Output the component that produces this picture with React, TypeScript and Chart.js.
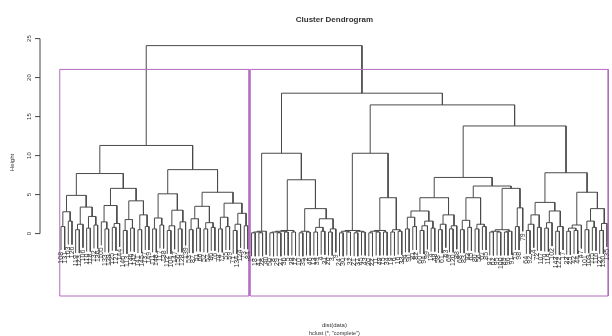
import React, { useEffect, useRef } from "react";
import { Chart, registerables } from "chart.js";

Chart.register(...registerables);

// Sub-trees in compact "(left,right)height" notation; leaves are row labels.
const a1a = "((108,131)0.9,(103,126)1.6)2.8";
const a1b = "(((119,123)0.5,106)1.2,((110,118)0.7,(132,136)1.1)2.2)3.4";
const a2a = "((105,(133,129)0.6)1.5,((125,121)0.8,144)1.3)3.6";
const a2b = "(((140,113)0.4,(146,142)0.7)1.8,((141,145)0.5,(137,149)0.9)2.4)4.2";
const b1a = "((111,148)0.6,(117,138)1.1)2.0";
const b1b = "(((112,104)0.4,147)1.0,((150,128)0.6,139)1.5)3.0";
const b2a = "(((53,87)0.5,(51,66)0.7)1.9,((52,57)0.6,(86,76)0.8)1.4)3.5";
const b2b = "(((78,77)0.6,(55,59)0.9)2.1,(((71,134)0.4,124)1.2,(73,84)1.0)2.6)3.9";
const r1a = "(((1,18)0.1,(41,28)0.1)0.2,40)0.3";
const r1b = "((((50,8)0.1,(29,27)0.1)0.2,(36,5)0.2)0.3,(38,12)0.2)0.4";
const r1c = "((10,35)0.1,(2,46)0.2)0.3";
const r1d = "(((13,39)0.2,(4,31)0.3)0.8,((26,3)0.2,9)0.6)1.9";
const r2a = "(((24,30)0.1,(7,32)0.2)0.3,((21,37)0.1,(45,43)0.2)0.3)0.4";
const r2b = "(((20,22)0.1,(11,49)0.2)0.3,(15,34)0.2)0.4";
const r2c = "((19,6)0.2,(16,33)0.3)0.5";
const pl = "(((54,90)0.6,(81,82)0.9)2.1,(((60,94)0.4,99)1.0,(14,48)0.7)1.6)2.9";
const pr = "(((58,61)0.5,63)1.2,((69,120)0.6,88)1.0)2.4";
const q1 = "(((68,83)0.5,(93,65)0.8)1.7,((80,56)0.6,(67,85)0.9)1.2)4.6";
const q2a = "(((97,62)0.2,(95,100)0.2)0.3,((89,96)0.2,91)0.3)0.5";
const q2b = "((75,98)0.9,79)3.3";
const s1 = "(((64,92)0.4,74)1.2,(72,107)0.8)2.4";
const s2 = "(((70,114)0.7,102)1.4,((143,122)0.3,17)0.9)2.9";
const t1 = "(((23,25)0.3,(42,44)0.4)0.7,47)1.1";
const t2 = "(((101,109)0.5,(115,116)0.8)1.6,((127,130)0.4,135)1.3)3.2";

const leftBranch = `(((${a1a},${a1b})4.9,(${a2a},${a2b})5.8)7.7,((${b1a},${b1b})5.1,(${b2a},${b2b})5.3)8.2)11.3`;
const rightBranch = `((${r1a},(${r1b},(${r1c},${r1d})3.2)6.9)10.3,((${r2a},(${r2b},${r2c})4.6)10.3,(((${pl},${pr})4.6,(${q1},(${q2a},${q2b})5.8)6.1)7.2,((${s1},${s2})4.0,(${t1},${t2})5.3)7.8)13.8)16.5)18.0`;
const treeText = `(${leftBranch},${rightBranch})24.1`;

const yTicks = [0, 5, 10, 15, 20, 25];
const clusterCount = 2;
const hangSize = 3.0;

const titleText = "Cluster Dendrogram";
const xLabelText = "dist(data)";
const subText = 'hclust (*, "complete")';
const yLabelText = "Height";

type TreeNode = {
  label?: string;
  left?: TreeNode;
  right?: TreeNode;
  height: number;
  x: number;
  leaves: number;
};

function parseTree(src: string): TreeNode {
  let i = 0;
  const readToken = () => {
    const start = i;
    while (i < src.length && /[0-9A-Za-z_.\-]/.test(src[i])) i++;
    return src.slice(start, i);
  };
  const node = (): TreeNode => {
    if (src[i] === "(") {
      i++;
      const left = node();
      i++; // ','
      const right = node();
      i++; // ')'
      const height = parseFloat(readToken());
      return { left, right, height, x: 0, leaves: left.leaves + right.leaves };
    }
    return { label: readToken(), height: 0, x: 0, leaves: 1 };
  };
  return node();
}

function placeLeaves(root: TreeNode) {
  let order = 0;
  const walk = (n: TreeNode) => {
    if (n.label !== undefined) {
      order += 1;
      n.x = order;
      return;
    }
    walk(n.left!);
    walk(n.right!);
    n.x = (n.left!.x + n.right!.x) / 2;
  };
  walk(root);
  return order;
}

export default function App() {
  const canvasRef = useRef<HTMLCanvasElement>(null);

  useEffect(() => {
    const root = parseTree(treeText);
    const n = placeLeaves(root);
    const hang = hangSize;

    const branchPts: { x: number; y: number | null }[] = [];
    const leafEnds: { x: number; y: number; label: string }[] = [];
    const bottomOf = (child: TreeNode, parentH: number) =>
      child.label !== undefined ? parentH - hang : child.height;

    const walk = (nd: TreeNode) => {
      if (nd.label !== undefined) return;
      const l = nd.left!;
      const r = nd.right!;
      const yl = bottomOf(l, nd.height);
      const yr = bottomOf(r, nd.height);
      branchPts.push({ x: l.x, y: yl }, { x: l.x, y: nd.height }, { x: r.x, y: nd.height }, { x: r.x, y: yr }, { x: r.x, y: null });
      if (l.label !== undefined) leafEnds.push({ x: l.x, y: yl, label: l.label });
      if (r.label !== undefined) leafEnds.push({ x: r.x, y: yr, label: r.label });
      walk(l);
      walk(r);
    };
    walk(root);

    // cluster boxes for the top-level cut
    const yMin = -8;
    const groups: TreeNode[] = clusterCount === 2 ? [root.left!, root.right!] : [root];
    const boxTop = (root.height + Math.max(root.left!.height, root.right!.height)) / 2;
    const boxPts: { x: number; y: number | null }[] = [];
    let start = 0;
    groups.forEach((g) => {
      const x0 = start + 0.66;
      const x1 = start + g.leaves + 0.33;
      boxPts.push({ x: x0, y: yMin }, { x: x0, y: boxTop }, { x: x1, y: boxTop }, { x: x1, y: yMin }, { x: x0, y: yMin }, { x: x0, y: null });
      start += g.leaves;
    });

    const decor = {
      id: "dendroDecor",
      beforeDraw(chart: any) {
        const c = chart.ctx;
        c.save();
        c.fillStyle = "#ffffff";
        c.fillRect(0, 0, chart.width, chart.height);
        c.restore();
      },
      afterDraw(chart: any) {
        const c = chart.ctx as CanvasRenderingContext2D;
        const xs = chart.scales.x;
        const ys = chart.scales.y;
        const area = chart.chartArea;
        const cx = (area.left + xs.getPixelForValue(n + 0.04 * (n - 1))) / 2;
        c.save();
        c.fillStyle = "#333";
        c.strokeStyle = "#444";
        c.lineWidth = 1;

        // title
        c.font = "bold 8px 'Liberation Sans', Arial, sans-serif";
        c.textAlign = "center";
        c.textBaseline = "middle";
        c.fillText(titleText, cx, 20);

        // y axis
        const axX = area.left;
        const yTop = ys.getPixelForValue(yTicks[yTicks.length - 1]);
        const yBot = ys.getPixelForValue(yTicks[0]);
        c.beginPath();
        c.moveTo(axX, yTop);
        c.lineTo(axX, yBot);
        yTicks.forEach((t) => {
          const py = ys.getPixelForValue(t);
          c.moveTo(axX - 5, py);
          c.lineTo(axX, py);
        });
        c.stroke();
        c.font = "6px 'Liberation Sans', Arial, sans-serif";
        yTicks.forEach((t) => {
          const py = ys.getPixelForValue(t);
          c.save();
          c.translate(29, py);
          c.rotate(-Math.PI / 2);
          c.textAlign = "center";
          c.textBaseline = "middle";
          c.fillText(String(t), 0, 0);
          c.restore();
        });
        c.save();
        c.translate(12, (area.top + area.bottom) / 2 + 3);
        c.rotate(-Math.PI / 2);
        c.textAlign = "center";
        c.textBaseline = "middle";
        c.fillText(yLabelText, 0, 0);
        c.restore();

        // leaf labels, reading upward and ending just below each leaf
        c.font = "7px 'Liberation Sans', Arial, sans-serif";
        leafEnds.forEach((lf) => {
          const px = xs.getPixelForValue(lf.x);
          const py = ys.getPixelForValue(lf.y);
          c.save();
          c.translate(px, py + 2);
          c.rotate(-Math.PI / 2);
          c.textAlign = "right";
          c.textBaseline = "middle";
          c.fillText(lf.label, 0, 0);
          c.restore();
        });

        // x axis captions
        c.textAlign = "center";
        c.textBaseline = "middle";
        c.font = "6px 'Liberation Sans', Arial, sans-serif";
        c.fillText(xLabelText, cx, 325);
        c.font = "5.5px 'Liberation Sans', Arial, sans-serif";
        c.fillText(subText, cx, 333);
        c.restore();
      },
    };

    const chart = new Chart(canvasRef.current!, {
      type: "scatter",
      data: {
        datasets: [
          {
            data: boxPts as any,
            showLine: true,
            spanGaps: false,
            borderColor: "#b26ac0",
            borderWidth: 1,
            pointRadius: 0,
            clip: false as any,
          },
          {
            data: branchPts as any,
            showLine: true,
            spanGaps: false,
            borderColor: "#4a4a4a",
            borderWidth: 1,
            pointRadius: 0,
            clip: false as any,
          },
        ],
      },
      options: {
        responsive: false,
        animation: false,
        devicePixelRatio: 1,
        events: [],
        layout: { padding: { left: 40, right: 0, top: 23, bottom: 40 } },
        plugins: { legend: { display: false }, tooltip: { enabled: false }, title: { display: false } },
        scales: {
          x: { type: "linear", display: false, min: 1 - 0.04 * (n - 1) + 0.23, max: n + 1.36 },
          y: { type: "linear", display: false, min: yMin, max: 27 },
        },
      },
      plugins: [decor],
    });
    return () => chart.destroy();
  }, []);

  return (
    <div style={{ position: "fixed", left: 0, top: 0, width: 612, height: 336, background: "#fff" }}>
      <canvas ref={canvasRef} width={612} height={336} style={{ display: "block" }} />
    </div>
  );
}
